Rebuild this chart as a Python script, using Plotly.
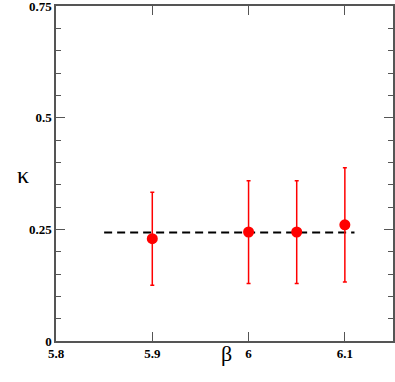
import plotly.graph_objects as go

# Data
BETA = [5.9, 6.0, 6.05, 6.1]
KAPPA = [0.229, 0.244, 0.244, 0.260]
KAPPA_ERR = [0.104, 0.115, 0.115, 0.128]

FIT_X = [5.85, 6.11]
FIT_Y = [0.243, 0.243]

X_TICKS = [5.8, 5.9, 6.0, 6.1]
Y_TICKS = [0, 0.25, 0.5, 0.75]

SERIF = "Liberation Serif"
TICK_FONT = dict(family=SERIF, size=13, color="black", weight="bold")
AXIS_COLOR = "#555555"

fig = go.Figure()

fig.add_trace(go.Scatter(
    x=FIT_X, y=FIT_Y, mode="lines",
    line=dict(color="black", width=2, dash="8px,5px"),
    showlegend=False, hoverinfo="skip",
))

fig.add_trace(go.Scatter(
    x=BETA, y=KAPPA, mode="markers",
    marker=dict(size=11, color="#ff0000"),
    error_y=dict(type="data", array=KAPPA_ERR, visible=True,
                 color="#ff0000", thickness=1.5, width=2),
    showlegend=False,
))

fig.update_layout(
    width=395, height=382,
    margin=dict(l=56, r=2, t=6, b=41, autoexpand=False),
    plot_bgcolor="white", paper_bgcolor="white",
    font=dict(family=SERIF),
    xaxis=dict(
        range=[5.8, 6.15], tickvals=X_TICKS, ticktext=["5.8", "5.9", "6", "6.1"],
        ticks="inside", ticklen=9, tickwidth=1.2, tickcolor=AXIS_COLOR,
        showline=True, linecolor=AXIS_COLOR, linewidth=1.5, mirror="ticks",
        showgrid=False, zeroline=False, tickfont=TICK_FONT, automargin=False,
        ticklabeloverflow="allow",
    ),
    yaxis=dict(
        range=[0, 0.75], tickvals=Y_TICKS, ticktext=["0", "0.25", "0.5", "0.75"],
        ticks="inside", ticklen=9, tickwidth=1.2, tickcolor=AXIS_COLOR,
        minor=dict(ticks="inside", ticklen=5, dtick=0.05, tickcolor=AXIS_COLOR,
                   showgrid=False),
        showline=True, linecolor=AXIS_COLOR, linewidth=1.5, mirror="ticks",
        showgrid=False, zeroline=False, tickfont=TICK_FONT, automargin=False,
        ticklabeloverflow="allow",
    ),
    annotations=[
        dict(text="κ", x=15, y=382 - 175, xref="paper", yref="paper",
             showarrow=False, font=dict(family=SERIF, size=24, color="black")),
        dict(text="β", x=226, y=382 - 368, xref="paper", yref="paper",
             showarrow=False, font=dict(family=SERIF, size=22, color="black")),
    ],
)

# annotation positions above are given in pixels; convert to paper coords
pw, ph = 395 - 56 - 2, 382 - 6 - 41
for ann in fig.layout.annotations:
    ann.x = (ann.x - 56) / pw
    ann.y = (ann.y - 41) / ph

# drop the default body margin so the 395x382 figure fills the window exactly
fig.write_html("out.html", config={"displayModeBar": False},
               post_script="document.body.style.margin='0';"
                           "document.body.style.overflow='hidden';")
